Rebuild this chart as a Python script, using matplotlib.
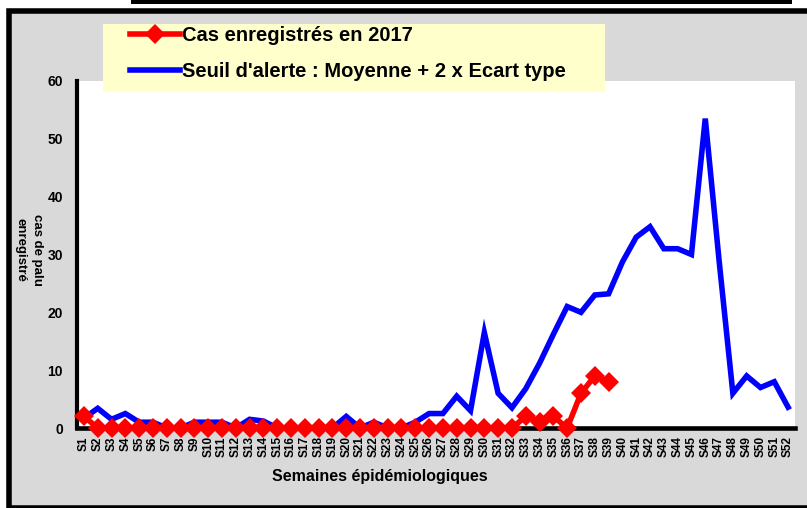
import matplotlib
matplotlib.use("Agg")
import matplotlib.pyplot as plt
from matplotlib.patches import Rectangle
from matplotlib.lines import Line2D

# -------------------------------
# Data
# -------------------------------
weeks = [f"S{i}" for i in range(1, 53)]

# cas enregistrés en 2017 (S1 -> S39)
cas_2017 = [2, 0, 0, 0, 0, 0, 0, 0, 0, 0,
            0, 0, 0, 0, 0, 0, 0, 0, 0, 0,
            0, 0, 0, 0, 0, 0, 0, 0, 0, 0,
            0, 0, 2, 1, 2, 0, 6, 9, 8]

# seuil d'alerte : moyenne + 2 x écart type (S1 -> S52)
seuil = [1.7, 3.4, 1.5, 2.5, 1, 1, 0, 0, 1, 1,
         1, 0, 1.5, 1.2, 0, 0, 0, 0, 0, 2,
         0, 1, 0, 0, 1, 2.5, 2.5, 5.5, 3, 16.5,
         6, 3.5, 6.8, 11.2, 16.2, 21, 20, 23, 23.2, 28.7,
         33, 34.8, 31, 31, 30, 53.5, 29, 6, 9, 7,
         8, 3.6]

W, H = 807, 508
plt.rcParams['font.family'] = ['Liberation Sans', 'DejaVu Sans']
plt.rcParams['font.weight'] = 'bold'

fig = plt.figure(figsize=(W / 100, H / 100), dpi=100)
fig.patch.set_facecolor("white")


def fx(px):
    return px / W


def fy(py):
    return 1 - py / H


# chart area background with black frame
fig.patches.append(Rectangle((fx(9), 0), fx(810), fy(11), transform=fig.transFigure,
                             facecolor="#d9d9d9", edgecolor="black", linewidth=4, zorder=-2))
fig.patches.append(Rectangle((fx(131), fy(4)), fx(661), fy(0) - fy(4), transform=fig.transFigure,
                             facecolor="black", edgecolor="none", zorder=-2))
# legend background (drawn above the plot area)
fig.patches.append(Rectangle((fx(103), fy(92)), fx(502), fy(24) - fy(92), transform=fig.transFigure,
                             facecolor="#ffffcc", edgecolor="none", zorder=4))

# -------------------------------
# Plot
# -------------------------------
ax = fig.add_axes([fx(77), fy(428), fx(795) - fx(77), fy(81) - fy(428)])
ax.set_facecolor("white")

x_all = list(range(len(weeks)))
ax.plot(x_all, seuil, color="#0000ff", lw=4, solid_joinstyle="miter", zorder=2)
ax.plot(x_all[:len(cas_2017)], cas_2017, color="#ff0000", lw=4, marker="D",
        markersize=10.5, markeredgewidth=0, zorder=3, clip_on=False)

ax.set_xlim(-0.5, len(weeks) - 0.5)
ax.set_ylim(0, 60)
ax.set_yticks(range(0, 61, 10))
ax.set_xticks(x_all)
ax.set_xticklabels(weeks, rotation=90, fontsize=8.5, fontweight="bold")
ax.tick_params(axis="y", length=0, pad=10, labelsize=10)
ax.tick_params(axis="x", length=0, pad=6)
for lab in ax.get_yticklabels():
    lab.set_fontweight("bold")

for s in ["top", "right"]:
    ax.spines[s].set_visible(False)
ax.spines["left"].set_linewidth(3)
ax.spines["bottom"].set_linewidth(3.3)

fig.text(fx(380), fy(476), "Semaines épidémiologiques", ha="center", va="center",
         fontsize=11.5, fontweight="bold")
fig.text(fx(29), fy(250), "cas de palu\nenregistré", ha="center", va="center",
         rotation=270, fontsize=9.5, fontweight="bold", linespacing=1.45)

# -------------------------------
# Legend
# -------------------------------
handles = [Line2D([], [], color="#ff0000", lw=4, marker="D", markersize=10.5, markeredgewidth=0),
           Line2D([], [], color="#0000ff", lw=4)]
labels = ["Cas enregistrés en 2017", "Seuil d'alerte : Moyenne + 2 x Ecart type"]
leg = fig.legend(handles, labels, loc="upper left", bbox_to_anchor=(fx(130), fy(26)),
                 bbox_transform=fig.transFigure, frameon=False,
                 prop={"size": 14.5, "weight": "bold"}, handlelength=2.5,
                 handletextpad=0.1, borderpad=0, labelspacing=0.85,
                 borderaxespad=0)
leg.set_zorder(5)

fig.savefig("out.png", dpi=100)
